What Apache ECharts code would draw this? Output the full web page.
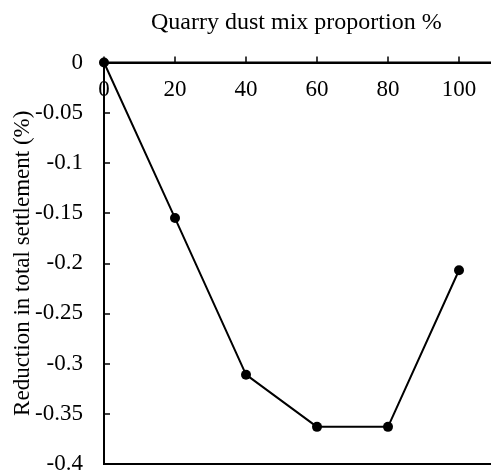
<!DOCTYPE html>
<html>
<head>
<meta charset="utf-8">
<script src="https://cdn.jsdelivr.net/npm/echarts@6/dist/echarts.min.js"></script>
<style>
  html, body { margin: 0; padding: 0; background: #fff; }
  #chart { width: 491px; height: 472px; }
</style>
</head>
<body>
<div id="chart"></div>
<script>
// mix proportion (%) and reduction in settlement (%)
const proportions = [0, 20, 40, 60, 80, 100]
const reduction = [0, -0.155, -0.311, -0.363, -0.363, -0.207]
const xTicks = [0, 20, 40, 60, 80, 100, 120]

const font = 'Liberation Serif'
const chart = echarts.init(document.getElementById('chart'))

let option = {
  animation: false,
  title: {
    text: 'Quarry dust mix proportion %',
    left: 146,
    top: 6,
    textStyle: { fontFamily: font, fontSize: 24, fontWeight: 'normal', color: '#000' }
  },
  grid: {
    left: 104,
    top: 62.5,
    right: -39,
    bottom: 8,
    containLabel: false,
    outerBoundsMode: 'none',
    show: true,
    borderColor: '#000',
    borderWidth: 2
  },
  xAxis: {
    type: 'value',
    position: 'top',
    min: xTicks[0],
    max: xTicks[xTicks.length - 1],
    interval: 20,
    splitLine: { show: false },
    axisLine: { lineStyle: { color: '#000', width: 2 } },
    axisTick: { inside: false, length: 6, lineStyle: { color: '#000', width: 1.5 } },
    axisLabel: {
      inside: true,
      margin: 16,
      color: '#000',
      fontFamily: font,
      fontSize: 23
    }
  },
  yAxis: {
    type: 'value',
    min: -0.4,
    max: 0,
    interval: 0.05,
    name: 'Reduction in total settlement (%)',
    nameLocation: 'middle',
    nameGap: 70,
    nameMoveOverlap: false,
    nameTextStyle: { fontFamily: font, fontSize: 23, color: '#000' },
    splitLine: { show: false },
    axisLine: { lineStyle: { color: '#000', width: 2 } },
    axisTick: { inside: true, length: 6, lineStyle: { color: '#000', width: 1.5 } },
    axisLabel: {
      margin: 21,
      color: '#000',
      fontFamily: font,
      fontSize: 23,
      formatter: v => String(Math.round(v * 100) / 100)
    }
  },
  series: [{
    type: 'line',
    data: proportions.map((p, i) => [p, reduction[i]]),
    symbol: 'circle',
    symbolSize: 10,
    itemStyle: { color: '#000' },
    lineStyle: { color: '#000', width: 2 }
  }]
}
chart.setOption(option)
</script>
</body>
</html>
